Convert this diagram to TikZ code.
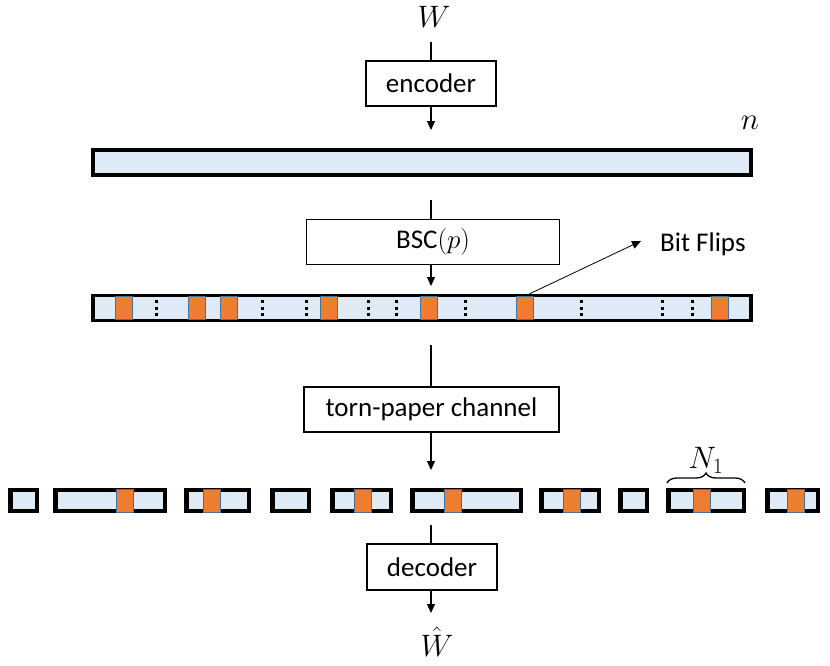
\RequirePackage{fix-cm}
\documentclass[tikz,border=0pt]{standalone}
\usepackage{fontspec}
\setmainfont{Carlito}
\usetikzlibrary{arrows.meta,decorations.pathreplacing}
\definecolor{barfill}{HTML}{DEEBF7}
\definecolor{flip}{HTML}{ED7D31}
\definecolor{flipedge}{HTML}{41719C}
\tikzset{
  procbox/.style={draw=black,line width=1.3pt,fill=white,inner sep=0pt,font=\fontsize{27}{32}\selectfont},
  conn/.style={line width=1.1pt},
  arr/.style={line width=1.1pt,-{Triangle[length=9pt,width=8pt]}},
  bar/.style={draw=black,line width=3.5pt,fill=barfill},
  frag/.style={draw=black,line width=4.5pt,fill=barfill},
  bitflip/.style={draw=flipedge,line width=1pt,fill=flip},
  dots/.style={line width=3pt,dash pattern=on 3pt off 3.5pt},
  mathlbl/.style={font=\fontsize{31}{36}\selectfont}
}
\begin{document}
\begin{tikzpicture}[x=1pt,y=-1pt]
\useasboundingbox (0,0) rectangle (830,665);
% top
\node[mathlbl,inner sep=0pt] (W) at (434,17) {$W$};
\coordinate (Wb) at (431,42);
\node[procbox,minimum width=130pt,minimum height=45pt] (enc) at (431,83.5) {encoder};
\draw[conn] (Wb) -- (enc.north -| Wb);
\coordinate (encT) at (431,130);
\draw[arr] (enc.south -| encT) -- (encT);
% bar 1
\node[bar,minimum width=658pt,minimum height=25pt,inner sep=0pt] (bar1) at (422,162.5) {};
\node[mathlbl,inner sep=0pt] (n) at (750,123) {$n$};
% BSC
\coordinate (b1s) at (431,200);
\node[procbox,minimum width=253pt,minimum height=45pt] (bsc) at (433,242) {BSC$(p)$};
\draw[conn] (b1s) -- (bsc.north -| b1s);
\coordinate (bscT) at (431,286);
\draw[arr] (bsc.south -| bscT) -- (bscT);
% bar 2
\node[bar,minimum width=658pt,minimum height=25pt,inner sep=0pt] (bar2) at (422,308) {};
\foreach \x [count=\i] in {124,197,229,329,429,525,720}{
  \node[bitflip,minimum width=17pt,minimum height=23pt,inner sep=0pt] (f\i) at (\x,308) {};
}
\foreach \x in {156,262,306,368,396,465,581,662,692}{
  \draw[dots] (\x,300) -- (\x,318);
}
\node[font=\fontsize{27}{32}\selectfont,anchor=west,inner sep=0pt] (bf) at (660,244) {Bit Flips};
\coordinate (bfT) at (641,241);
\draw[line width=0.8pt,-{Triangle[length=9pt,width=8pt]}] (f6.north) -- (bfT);
% torn paper
\coordinate (b2s) at (431,345);
\node[procbox,minimum width=255pt,minimum height=45pt] (tp) at (431.5,409.5) {torn-paper channel};
\draw[conn] (b2s) -- (tp.north -| b2s);
\coordinate (tpT) at (431,470);
\draw[arr] (tp.south -| tpT) -- (tpT);
% fragments
\foreach \a/\b/\o [count=\i] in {8/39/0,53/167/125,184/251/211.5,270/311/0,330/393/363,410/523/453,539/601/571.5,618/649/0,666/746/701.5,765/820/796}{
  \pgfmathsetmacro{\w}{\b-\a-4.5}
  \pgfmathsetmacro{\c}{(\a+\b)/2}
  \node[frag,minimum width=\w pt,minimum height=21pt,inner sep=0pt] (p\i) at (\c,500.5) {};
  \ifdim \o pt>0pt
    \node[bitflip,minimum width=17pt,minimum height=23pt,inner sep=0pt] (q\i) at (\o,500.5) {};
  \fi
}
\draw[line width=1.3pt,decorate,decoration={brace,amplitude=10pt}] (667,483) -- (745,483) node[midway,above=9pt,mathlbl,inner sep=0pt] (N) {$N_1$};
% decoder
\coordinate (b3s) at (431,525);
\node[procbox,minimum width=130pt,minimum height=46pt] (dec) at (432,567) {decoder};
\draw[conn] (b3s) -- (dec.north -| b3s);
\coordinate (decT) at (431,613);
\draw[arr] (dec.south -| decT) -- (decT);
\node[mathlbl,inner sep=0pt] (What) at (437,642) {$\hat{W}$};
\end{tikzpicture}
\end{document}
